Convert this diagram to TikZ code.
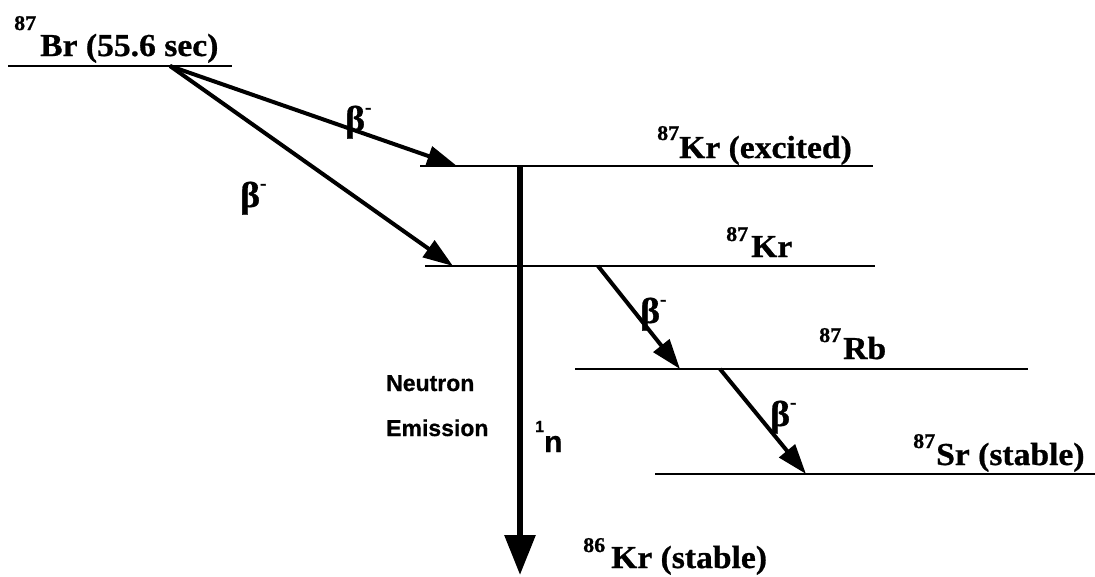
\documentclass[tikz,border=0pt]{standalone}
\usepackage{fontspec}
\setmainfont{Liberation Serif}
\newfontfamily\lblfont[FakeStretch=1.05,BoldFeatures={FakeBold=0.8}]{Liberation Serif}
\newfontfamily\sansfont[BoldFeatures={FakeBold=0.6}]{Liberation Sans}
\usetikzlibrary{arrows.meta}
\tikzset{
  level/.style={line width=2pt},
  beta/.style={line width=4pt, -{Triangle[length=30pt,width=20pt]}},
  neutron/.style={line width=6pt, -{Triangle[length=40pt,width=30pt]}},
  lbl/.style={inner sep=0, anchor=base west, font=\lblfont\bfseries\fontsize{32}{32}\selectfont},
  suplbl/.style={inner sep=0, anchor=base west, font=\lblfont\bfseries\fontsize{21}{21}\selectfont},
  betalbl/.style={inner sep=0, anchor=base west, font=\lblfont\bfseries\fontsize{36}{36}\selectfont},
  sanslbl/.style={inner sep=0, font=\sansfont\bfseries\fontsize{23}{45}\selectfont}
}
\newcommand{\betam}{β\raisebox{18pt}{\fontsize{18}{18}\selectfont -}}
\begin{document}
\begin{tikzpicture}[x=1pt,y=-1pt]
\useasboundingbox (0,0) rectangle (1095,576);
% level end points
\coordinate (brL) at (8,66);   \coordinate (brR) at (232,66);
\coordinate (kxL) at (420,166); \coordinate (kxR) at (873,166);
\coordinate (krL) at (425,266); \coordinate (krR) at (875,266);
\coordinate (rbL) at (575,369); \coordinate (rbR) at (1028,369);
\coordinate (srL) at (655,474); \coordinate (srR) at (1095,474);
% arrow end points
\coordinate (brS) at (170,66);
\coordinate (kxT) at (457,166);
\coordinate (krT) at (453,266);
\coordinate (nS) at (520,166);
\coordinate (nT) at (520,575);
\coordinate (krS) at (598,266);
\coordinate (rbT) at (680,369);
\coordinate (rbS) at (720,369);
\coordinate (srT) at (806,474);
% levels
\draw[level] (brL) -- (brR);
\draw[level] (kxL) -- (kxR);
\draw[level] (krL) -- (krR);
\draw[level] (rbL) -- (rbR);
\draw[level] (srL) -- (srR);
% arrows
\draw[beta] (brS) -- (kxT);
\draw[beta] (brS) -- (krT);
\draw[neutron] (nS) -- (nT);
\draw[beta] (krS) -- (rbT);
\draw[beta] (rbS) -- (srT);
% labels
\node[suplbl] (brsup) at (14,30) {87};
\node[lbl] (br) at (40,56) {Br (55.6 sec)};
\node[suplbl] (kxsup) at (657,140) {87};
\node[lbl] (kx) at (679,158) {Kr (excited)};
\node[suplbl] (krsup) at (726,241) {87};
\node[lbl] (kr) at (751,257) {Kr};
\node[suplbl] (rbsup) at (819,342) {87};
\node[lbl] (rb) at (843,359) {Rb};
\node[suplbl] (srsup) at (913,448) {87};
\node[lbl] (sr) at (936,465) {Sr (stable)};
\node[suplbl] (kssup) at (583,552) {86};
\node[lbl] (ks) at (611,568) {Kr (stable)};
% beta labels
\node[betalbl] (b1) at (345,131) {\betam};
\node[betalbl] (b2) at (240,207) {\betam};
\node[betalbl] (b3) at (640,323) {\betam};
\node[betalbl] (b4) at (770,426) {\betam};
% neutron emission
\node[sanslbl, align=left, anchor=north west] (ne) at (386,375) {Neutron\\Emission};
\node[inner sep=0, anchor=base west, font=\sansfont\bfseries\fontsize{30}{30}\selectfont] (n1) at (535,452) {\raisebox{20pt}{\fontsize{16}{16}\selectfont 1}n};
\end{tikzpicture}
\end{document}
